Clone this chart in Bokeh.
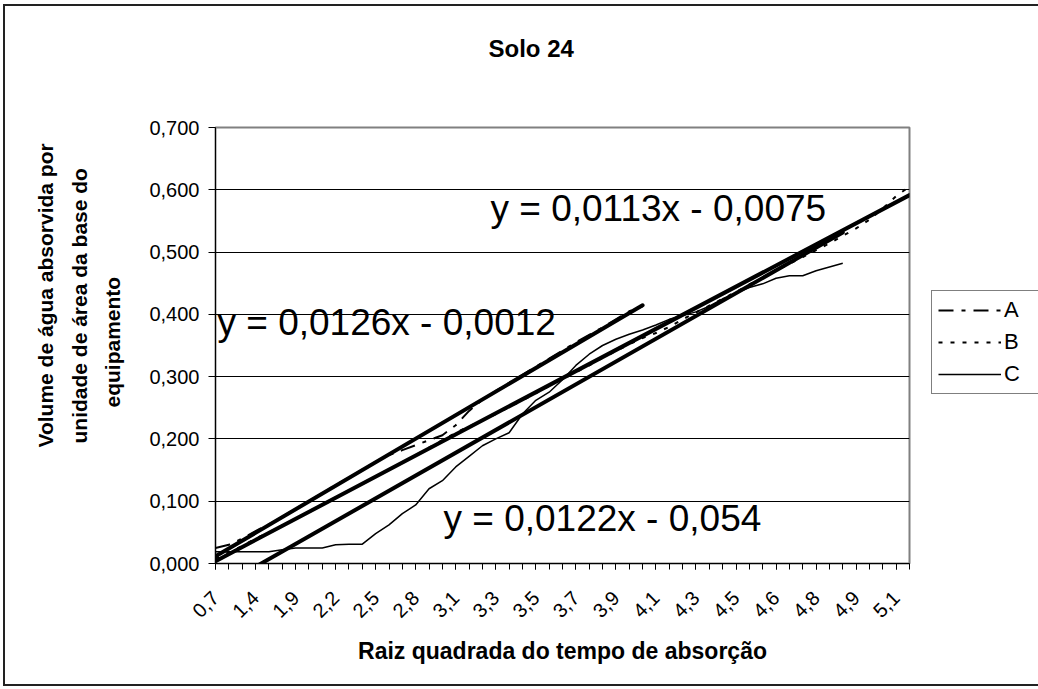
import math
from bokeh.plotting import figure
from bokeh.layouts import row
from bokeh.models import Range1d, FixedTicker, Label, Legend, LegendItem, Title
from bokeh.embed import file_html
from bokeh.resources import INLINE

# ---------------- data ----------------
categories = ["0,7", "1,0", "1,2", "1,4", "1,6", "1,7", "1,9", "2,0", "2,1", "2,2",
              "2,3", "2,4", "2,5", "2,6", "2,7", "2,8", "2,9", "3,0", "3,1", "3,2",
              "3,2", "3,3", "3,4", "3,5", "3,5", "3,6", "3,7", "3,7", "3,8", "3,9",
              "3,9", "4,0", "4,1", "4,1", "4,2", "4,2", "4,3", "4,4", "4,4", "4,5",
              "4,5", "4,6", "4,6", "4,7", "4,7", "4,8", "4,8", "4,9", "4,9", "5,0",
              "5,0", "5,1", "5,1"]
label_step = 3

series_names = ["A", "B", "C"]
series_a = [0.025, 0.030, 0.040, 0.052, 0.063, 0.075, 0.088, 0.100, 0.113, 0.126,
            0.138, 0.151, 0.163, 0.174, 0.182, 0.190, 0.198, 0.206, 0.222, 0.245,
            0.263, 0.277, 0.290, 0.303, 0.316, 0.329, 0.342, 0.355, 0.367, 0.379,
            0.392, 0.405, 0.413]
series_b = [0.008, 0.018, 0.028, 0.040, 0.050, 0.061, 0.072, 0.083, 0.095, 0.106,
            0.117, 0.128, 0.140, 0.151, 0.162, 0.174, 0.186, 0.198, 0.210, 0.220,
            0.230, 0.240, 0.251, 0.262, 0.273, 0.285, 0.296, 0.307, 0.318, 0.330,
            0.341, 0.352, 0.362, 0.370, 0.380, 0.392, 0.403, 0.414, 0.425, 0.436,
            0.448, 0.459, 0.470, 0.481, 0.492, 0.503, 0.514, 0.526, 0.538, 0.552,
            0.570, 0.590, 0.605]
series_c = [0.019, 0.019, 0.019, 0.019, 0.019, 0.022, 0.025, 0.025, 0.025, 0.030,
            0.031, 0.031, 0.048, 0.062, 0.080, 0.094, 0.120, 0.133, 0.155, 0.172,
            0.189, 0.200, 0.210, 0.240, 0.262, 0.275, 0.295, 0.318, 0.336, 0.350,
            0.360, 0.368, 0.375, 0.383, 0.392, 0.398, 0.404, 0.413, 0.425, 0.434,
            0.443, 0.449, 0.458, 0.462, 0.462, 0.470, 0.476, 0.482]

trend_slopes = [0.0126, 0.0113, 0.0122]
trend_intercepts = [-0.0012, -0.0075, -0.054]

y_ticks = [0.0, 0.1, 0.2, 0.3, 0.4, 0.5, 0.6, 0.7]
y_tick_labels = ["0,000", "0,100", "0,200", "0,300", "0,400", "0,500", "0,600", "0,700"]

title_text = "Solo 24"
x_title = "Raiz quadrada do tempo de absorção"
y_title_lines = ["Volume de água absorvida por", "unidade de área da base do", "equipamento"]

# ---------------- main figure ----------------
FONT = "Liberation Sans"
x_idx = list(range(1, len(categories) + 1))
all_series = [series_a, series_b, series_c]
dashes = ["15 8 4 8", "4 8", "solid"]
widths = [2, 2, 1.5]

p = figure(frame_width=694, frame_height=436,
           x_range=Range1d(1, len(categories)), y_range=Range1d(y_ticks[0], y_ticks[-1]),
           output_backend="svg", toolbar_location=None,
           min_border_left=210, min_border_right=5, min_border_top=121, min_border_bottom=121,
           background_fill_color="white", border_fill_color="white")

p.outline_line_color = "#808080"
p.outline_line_width = 2

# title (outermost in the top panel) with a blank spacer below it
p.title.text = title_text
p.title.align = "left"
p.title.offset = 273
p.title.standoff = 10
p.title.text_font = FONT
p.title.text_font_size = "24px"
p.title.text_font_style = "bold"
p.title.text_color = "black"
p.add_layout(Title(text=" ", text_font_size="1px", standoff=58), "above")

# x axis
major_x = x_idx[::label_step]
p.xaxis.ticker = FixedTicker(ticks=major_x, minor_ticks=x_idx)
p.xaxis.major_label_overrides = {i: categories[i - 1] for i in major_x}
p.xaxis.major_label_orientation = math.pi / 4
p.xaxis.major_tick_out = 6
p.xaxis.major_tick_in = 0
p.xaxis.minor_tick_out = 6
p.xaxis.minor_tick_in = 0
p.xaxis.major_label_standoff = 25
p.xaxis.major_label_text_font = FONT
p.xaxis.major_label_text_font_size = "20px"
p.xaxis.major_label_text_color = "black"
p.xaxis.axis_line_color = "black"
p.xaxis.major_tick_line_color = "black"
p.xaxis.minor_tick_line_color = "black"
p.xaxis.axis_label = x_title
p.xaxis.axis_label_text_font = FONT
p.xaxis.axis_label_text_font_size = "23px"
p.xaxis.axis_label_text_font_style = "bold"
p.xaxis.axis_label_text_color = "black"
p.xaxis.axis_label_standoff = 11
p.xgrid.visible = False

# y axis
p.yaxis.ticker = FixedTicker(ticks=y_ticks, minor_ticks=[])
p.yaxis.major_label_overrides = dict(zip(y_ticks, y_tick_labels))
p.yaxis.major_tick_out = 7
p.yaxis.major_tick_in = 0
p.yaxis.major_label_standoff = 9
p.yaxis.major_label_text_font = FONT
p.yaxis.major_label_text_font_size = "20px"
p.yaxis.major_label_text_color = "black"
p.yaxis.axis_line_color = "black"
p.yaxis.major_tick_line_color = "black"
p.ygrid.ticker = FixedTicker(ticks=y_ticks)
p.ygrid.grid_line_color = "black"
p.ygrid.grid_line_width = 1

# y title: blank spacer next to the axis, then three lines (innermost first)
p.add_layout(Title(text=" ", text_font_size="1px", standoff=19), "left")
y_offsets = [116, 120, 156]
y_standoffs = [6, 13, 2]
for txt, off, so in reversed(list(zip(y_title_lines, y_offsets, y_standoffs))):
    p.add_layout(Title(text=txt, align="left", offset=off, standoff=so,
                       text_font=FONT, text_font_size="21px", text_font_style="bold",
                       text_color="black"), "left")

# data series
for ser, dash, w in zip(all_series, dashes, widths):
    p.line(x_idx[:len(ser)], ser, line_color="black", line_width=w, line_dash=dash)

# linear trendlines (from the equations shown)
for ser, s, b in zip(all_series, trend_slopes, trend_intercepts):
    xs = [x_idx[0], x_idx[len(ser) - 1]]
    ys = [s * xs[0] + b, s * xs[1] + b]
    p.line(xs, ys, line_color="black", line_width=4, line_cap="round")

# equation labels
def eq_text(s, b):
    sign = "-" if b < 0 else "+"
    return "y = " + str(s).replace(".", ",") + "x " + sign + " " + str(abs(b)).replace(".", ",")

FL, FB = 215, 563  # frame left / bottom in page pixels
eq_pos = [(217, 322), (490, 208), (443, 518)]
for (px, py), s, b in zip(eq_pos, trend_slopes, trend_intercepts):
    p.add_layout(Label(x=px - FL, y=FB - py, x_units="screen", y_units="screen",
                       text=eq_text(s, b), text_font=FONT, text_font_size="37px",
                       text_color="black", text_align="left", text_baseline="alphabetic"))

# ---------------- legend strip on the right ----------------
# the same series are drawn here outside the visible range, only to feed the legend keys
p2 = figure(width=124, height=678, x_range=Range1d(-3, -2), y_range=Range1d(0, 1),
            output_backend="svg", toolbar_location=None,
            x_axis_type=None, y_axis_type=None,
            min_border_left=0, min_border_right=0, min_border_top=0, min_border_bottom=0,
            background_fill_color="white", border_fill_color="white")
p2.outline_line_color = None
p2.xgrid.visible = False
p2.ygrid.visible = False
keys = []
for name, ser, dash, w in zip(series_names, all_series, dashes, widths):
    r = p2.line(x_idx[:len(ser)], ser, line_color="black", line_width=w, line_dash=dash)
    keys.append(LegendItem(label=name, renderers=[r]))
legend = Legend(items=keys, location=(17, 169), margin=0, padding=6, spacing=6,
                glyph_width=63, glyph_height=22, label_height=22, label_width=60,
                label_standoff=3, border_line_color="black", border_line_width=1,
                background_fill_color="white", background_fill_alpha=1,
                label_text_font=FONT, label_text_font_size="22px", label_text_color="black")
p2.add_layout(legend)

layout = row(p, p2, spacing=0,
             styles={"margin-left": "3px", "margin-top": "4px",
                     "border-left": "2px solid #222", "border-top": "2px solid #222",
                     "border-bottom": "2px solid #222"})

open("out.html", "w").write(file_html(layout, INLINE))
